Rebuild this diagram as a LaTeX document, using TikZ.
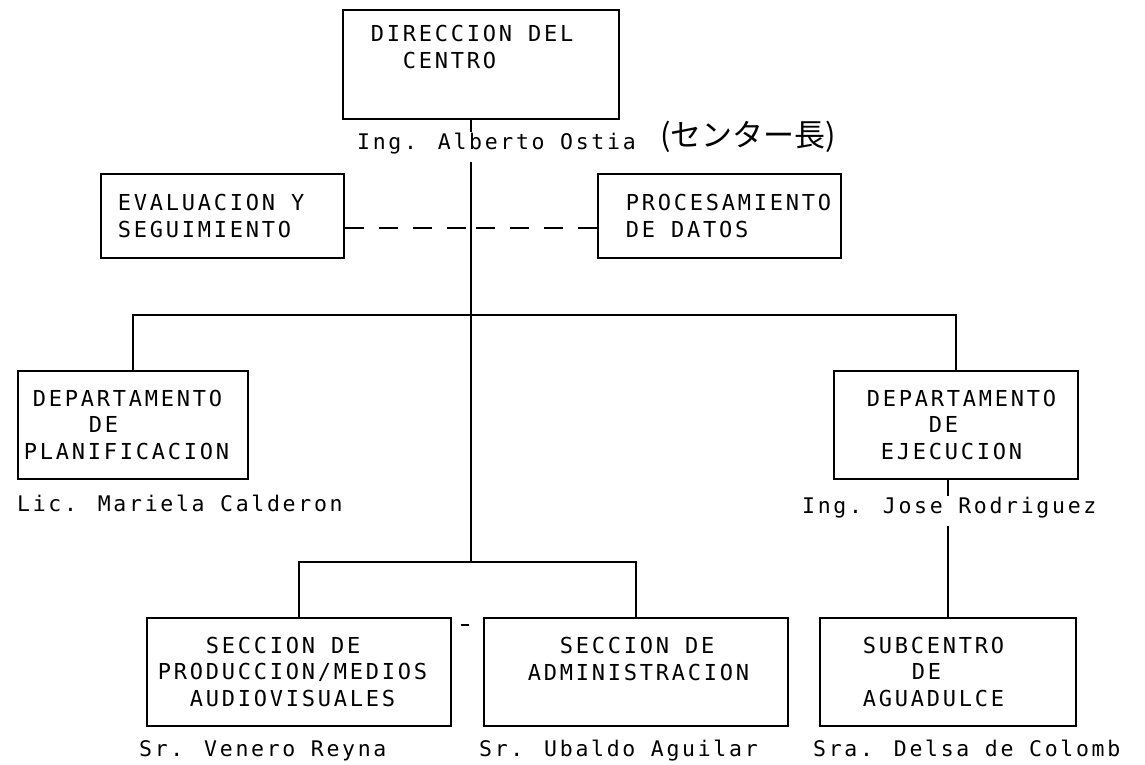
\documentclass[tikz,border=0pt]{standalone}
\usepackage{fontspec}
\newfontfamily\monofam[LetterSpace=12.5]{DejaVu Sans Mono}
\newfontfamily\jpfont{Noto Sans CJK JP}
\newcommand\chs{\hspace{16pt}}
\begin{document}
\begin{tikzpicture}[x=1pt,y=-1pt,
  orgbox/.style={draw, line width=1.8pt, inner xsep=0pt, inner ysep=0pt, anchor=north west,
     align=left, font=\monofam\fontsize{22}{26.8}\selectfont},
  person/.style={inner sep=0pt, anchor=base west, font=\monofam\fontsize{21.5}{26.5}\selectfont},
  link/.style={line width=1.8pt},
  dashlink/.style={line width=1.8pt, dash pattern=on 19pt off 15pt}]
\useasboundingbox (0,0) rectangle (1145,764);
\fill[white] (0,0) rectangle (1145,764);

% boxes
\node[orgbox, text width=276pt, minimum height=109pt] (dir) at (342,9)
  {\hspace*{28pt}DIRECCION\chs DEL\\\hspace*{60pt}CENTRO\\[8pt]\mbox{}};
\node[orgbox, text width=243pt, minimum height=84pt] (eval) at (100,173)
  {\hspace*{17pt}EVALUACION\chs Y\\\hspace*{17pt}SEGUIMIENTO};
\node[orgbox, text width=243pt, minimum height=84pt] (proc) at (597,173)
  {\hspace*{28pt}PROCESAMIENTO\\\hspace*{28pt}DE\chs DATOS};
\node[orgbox, text width=230pt, minimum height=108pt] (plan) at (17,370)
  {\hspace*{15pt}DEPARTAMENTO\\\hspace*{71pt}DE\\\hspace*{6pt}PLANIFICACION};
\node[orgbox, text width=244pt, minimum height=108pt] (ejec) at (833,370)
  {\hspace*{33pt}DEPARTAMENTO\\\hspace*{95pt}DE\\\hspace*{47pt}EJECUCION};
\node[orgbox, text width=304pt, minimum height=108pt] (prod) at (146,617)
  {\hspace*{59pt}SECCION\chs DE\\\hspace*{11pt}PRODUCCION/MEDIOS\\\hspace*{43pt}AUDIOVISUALES};
\node[orgbox, text width=304pt, minimum height=108pt] (admin) at (483,617)
  {\hspace*{76pt}SECCION\chs DE\\\hspace*{44pt}ADMINISTRACION\\\mbox{}};
\node[orgbox, text width=256pt, minimum height=108pt] (sub) at (819,617)
  {\hspace*{43pt}SUBCENTRO\\\hspace*{92pt}DE\\\hspace*{43pt}AGUADULCE};

% names
\node[person] (alb) at (357,149) {Ing. Alberto Ostia};
\node[inner sep=0pt, font=\jpfont\fontsize{31}{34}\selectfont] (jp) at (748,137) {(センター長)};
\node[person] (mar) at (17,511) {Lic. Mariela Calderon};
\node[person] (jose) at (802,513) {Ing. Jose Rodriguez};
\node[person] (ven) at (139,756) {Sr. Venero Reyna};
\node[person] (uba) at (479,756) {Sr. Ubaldo Aguilar};
\node[person] (del) at (813,756) {Sra. Delsa de Colomb};

% junctions
\coordinate (jD) at (471,228);
\coordinate (jU) at (471,315);
\coordinate (jL) at (471,562);

% connectors
\draw[link] (dir.south -| jL) -- (alb.north -| jL);
\draw[link, shorten <=8pt] (alb.south -| jL) -- (jL);
\draw[dashlink] (eval.east |- jD) -- (jD);
\draw[dashlink] (proc.west |- jD) -- (jD);
\draw[link] (plan.north) |- (jU) -| (ejec.north);
\draw[link] (prod.north) |- (jL) -| (admin.north);
\draw[link] (ejec.south -| sub.north) -- (jose.north -| sub.north);
\draw[link, shorten <=8pt] (jose.south -| sub.north) -- (sub.north);

% stray mark
\draw[line width=1.5pt] (461,625) -- (469,625);
\end{tikzpicture}
\end{document}
